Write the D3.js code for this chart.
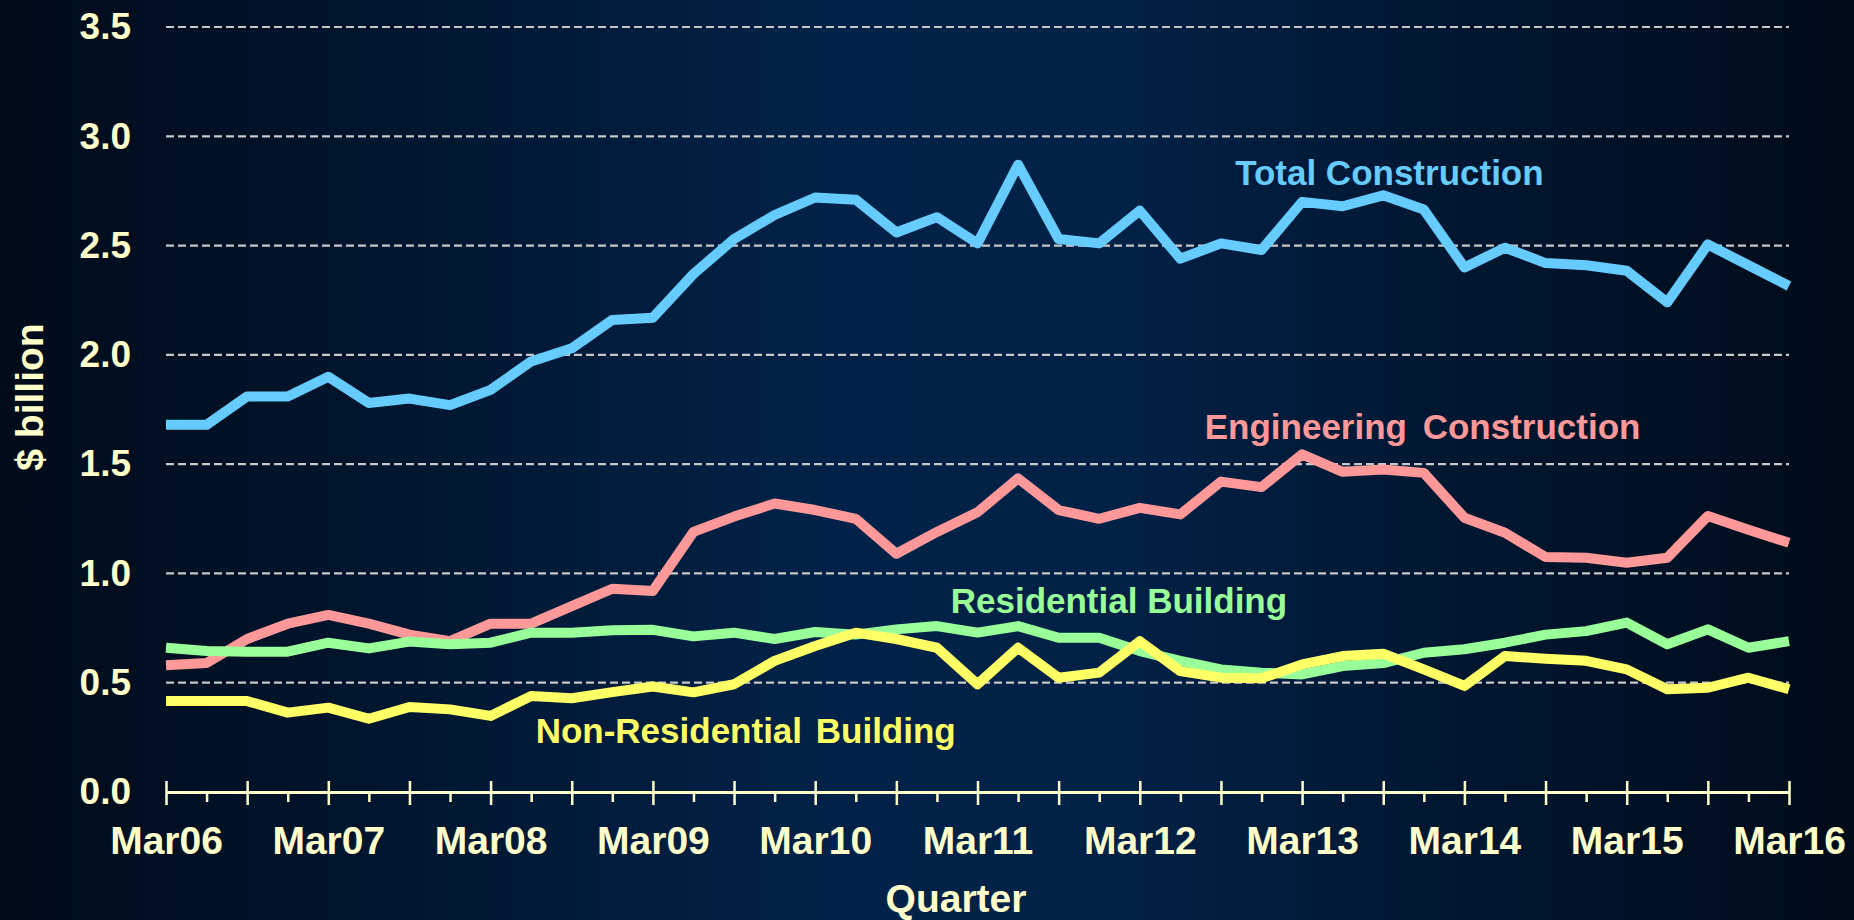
<!DOCTYPE html>
<html>
<head>
<meta charset="utf-8">
<script src="https://cdn.jsdelivr.net/npm/d3@7"></script>
<style>
   html, body { margin: 0; padding: 0; background: #000c1c; }
   svg { display: block; font-family: "Liberation Sans", Arial, sans-serif; font-weight: bold; }
</style>
</head>
<body>
<svg id="chart" width="1854" height="920"></svg>
<script>
// quarters, Mar06 .. Mar16
var quarters = [
   'Mar06', 'Jun06', 'Sep06', 'Dec06', 'Mar07', 'Jun07', 'Sep07', 'Dec07',
   'Mar08', 'Jun08', 'Sep08', 'Dec08', 'Mar09', 'Jun09', 'Sep09', 'Dec09',
   'Mar10', 'Jun10', 'Sep10', 'Dec10', 'Mar11', 'Jun11', 'Sep11', 'Dec11',
   'Mar12', 'Jun12', 'Sep12', 'Dec12', 'Mar13', 'Jun13', 'Sep13', 'Dec13',
   'Mar14', 'Jun14', 'Sep14', 'Dec14', 'Mar15', 'Jun15', 'Sep15', 'Dec15',
   'Mar16'
];

// $ billion per quarter
var totalConstruction = [
   1.68, 1.68, 1.81, 1.81, 1.90, 1.78, 1.80, 1.77, 1.84, 1.97, 2.03, 2.16, 2.17, 2.37, 2.53, 2.64,
   2.72, 2.71, 2.56, 2.63, 2.51, 2.87, 2.53, 2.51, 2.66, 2.44, 2.51, 2.48, 2.70, 2.68, 2.73, 2.665,
   2.40, 2.49, 2.42, 2.41, 2.385, 2.24, 2.505, 2.41, 2.315
];
var engineeringConstruction = [
   0.58, 0.59, 0.70, 0.77, 0.81, 0.77, 0.72, 0.69, 0.77, 0.77, 0.85, 0.93, 0.92, 1.19, 1.26, 1.32,
   1.29, 1.25, 1.09, 1.19, 1.28, 1.435, 1.29, 1.25, 1.30, 1.27, 1.42, 1.395, 1.545, 1.465, 1.475, 1.46,
   1.255, 1.186, 1.075, 1.072, 1.049, 1.072, 1.263, 1.20, 1.14
];
var residentialBuilding = [
   0.66, 0.645, 0.642, 0.642, 0.683, 0.657, 0.688, 0.676, 0.683, 0.729, 0.729, 0.74, 0.742, 0.712, 0.729, 0.70,
   0.732, 0.72, 0.744, 0.759, 0.729, 0.759, 0.706, 0.706, 0.645, 0.60, 0.561, 0.546, 0.538, 0.576, 0.59, 0.637,
   0.653, 0.683, 0.72, 0.736, 0.775, 0.676, 0.744, 0.66, 0.69
];
var nonResidentialBuilding = [
   0.416, 0.416, 0.416, 0.363, 0.386, 0.335, 0.389, 0.378, 0.348, 0.439, 0.429, 0.457, 0.483, 0.456, 0.493, 0.60,
   0.668, 0.729, 0.70, 0.66, 0.493, 0.66, 0.523, 0.546, 0.69, 0.553, 0.523, 0.52, 0.584, 0.622, 0.633, 0.561,
   0.485, 0.622, 0.61, 0.60, 0.561, 0.47, 0.477, 0.523, 0.47
];

var yTicks = [0, 0.5, 1.0, 1.5, 2.0, 2.5, 3.0, 3.5];

var seriesNames = ['Total Construction', 'Engineering Construction', 'Residential Building', 'Non-Residential Building'];
var seriesValues = [totalConstruction, engineeringConstruction, residentialBuilding, nonResidentialBuilding];

(function drawChart() {
   var svg = d3.select('#chart');
   var W = 1854, H = 920;
   var plot = {left: 166, right: 1789, top: 27, bottom: 792};
   var fontFamily = '"Liberation Sans", Arial, sans-serif';

   var colors = d3.scaleOrdinal()
      .domain(seriesNames)
      .range(['#66ccff', '#ff9999', '#99ff99', '#ffff66']);

   // label anchors, in quarter index / value space; word spacing as in the original
   var labelAnchors = {
      'Total Construction': [26.35, 2.777, 0],
      'Engineering Construction': [25.6, 1.615, 6],
      'Residential Building': [19.34, 0.82, 0],
      'Non-Residential Building': [9.11, 0.224, 4]
   };

   var grad = svg.append('defs').append('linearGradient')
      .attr('id', 'bg')
      .attr('x1', '0%').attr('x2', '100%').attr('y1', '0%').attr('y2', '0%');
   grad.append('stop').attr('offset', '0%').attr('stop-color', '#000b19');
   grad.append('stop').attr('offset', '45%').attr('stop-color', '#012248');
   grad.append('stop').attr('offset', '60%').attr('stop-color', '#012146');
   grad.append('stop').attr('offset', '100%').attr('stop-color', '#000b19');

   svg.append('rect').attr('width', W).attr('height', H).attr('fill', 'url(#bg)');

   var x = d3.scaleLinear().domain([0, quarters.length - 1]).range([plot.left, plot.right]);
   var xq = d3.scalePoint().domain(quarters).range([plot.left, plot.right]);
   var y = d3.scaleLinear().domain([0, 3.5]).range([plot.bottom, plot.top]);

   // grid
   svg.append('g').selectAll('line')
      .data(yTicks.filter(function (d) { return d > 0; }))
      .enter().append('line')
      .attr('x1', plot.left).attr('x2', plot.right)
      .attr('y1', function (d) { return y(d); })
      .attr('y2', function (d) { return y(d); })
      .attr('stroke', '#c8c8c8')
      .attr('stroke-width', 2.2)
      .attr('stroke-dasharray', '8,4');

   // y axis labels
   var yAxis = svg.append('g')
      .attr('transform', 'translate(' + plot.left + ',0)')
      .call(d3.axisLeft(y).tickValues(yTicks).tickFormat(d3.format('.1f')).tickSize(0).tickPadding(35));
   yAxis.select('.domain').remove();
   yAxis.selectAll('text')
      .attr('fill', '#ffffcc')
      .style('font-size', '37px')
      .style('font-family', fontFamily)
      .style('font-weight', 'bold');

   // lines
   var line = d3.line()
      .x(function (d, i) { return x(i); })
      .y(function (d) { return y(d); });

   svg.append('g').selectAll('path')
      .data(seriesNames)
      .enter().append('path')
      .attr('d', function (name, i) { return line(seriesValues[i]); })
      .attr('fill', 'none')
      .attr('stroke', function (name) { return colors(name); })
      .attr('stroke-width', 10)
      .attr('stroke-linejoin', 'round');

   // series labels
   svg.append('g').selectAll('text')
      .data(seriesNames)
      .enter().append('text')
      .attr('x', function (name) { return x(labelAnchors[name][0]); })
      .attr('y', function (name) { return y(labelAnchors[name][1]); })
      .attr('fill', function (name) { return colors(name); })
      .style('font-size', '35px')
      .style('word-spacing', function (name) { return labelAnchors[name][2] + 'px'; })
      .text(function (name) { return name; });

   // x axis: major ticks every half year, minor ticks between, labels each March
   var minorAxis = svg.append('g')
      .attr('transform', 'translate(0,' + plot.bottom + ')')
      .call(d3.axisBottom(xq)
         .tickValues(quarters.filter(function (q) { return /^(Jun|Dec)/.test(q); }))
         .tickSize(10).tickSizeOuter(0).tickFormat(''));
   minorAxis.select('.domain').remove();
   minorAxis.selectAll('line').attr('stroke', '#ffffcc').attr('stroke-width', 2.5);

   var majorAxis = svg.append('g')
      .attr('transform', 'translate(0,' + plot.bottom + ')')
      .call(d3.axisBottom(xq)
         .tickValues(quarters.filter(function (q) { return /^(Mar|Sep)/.test(q); }))
         .tickSize(13).tickSizeOuter(0)
         .tickFormat(function (q) { return /^Mar/.test(q) ? q : ''; }));
   majorAxis.select('.domain').attr('stroke', '#ffffcc').attr('stroke-width', 3);
   majorAxis.selectAll('.tick line').attr('y1', -11).attr('stroke', '#ffffcc').attr('stroke-width', 2.5);
   majorAxis.selectAll('.tick text')
      .attr('y', 62).attr('dy', 0)
      .attr('fill', '#ffffcc')
      .style('font-size', '39px')
      .style('font-family', fontFamily)
      .style('font-weight', 'bold');

   // axis titles
   svg.append('text')
      .attr('x', 956).attr('y', 912)
      .attr('text-anchor', 'middle')
      .attr('fill', '#ffffcc')
      .style('font-size', '39px')
      .text('Quarter');

   svg.append('text')
      .attr('transform', 'translate(43,397) rotate(-90)')
      .attr('text-anchor', 'middle')
      .attr('fill', '#ffffcc')
      .style('font-size', '39px')
      .text('$ billion');
})();
</script>
</body>
</html>
